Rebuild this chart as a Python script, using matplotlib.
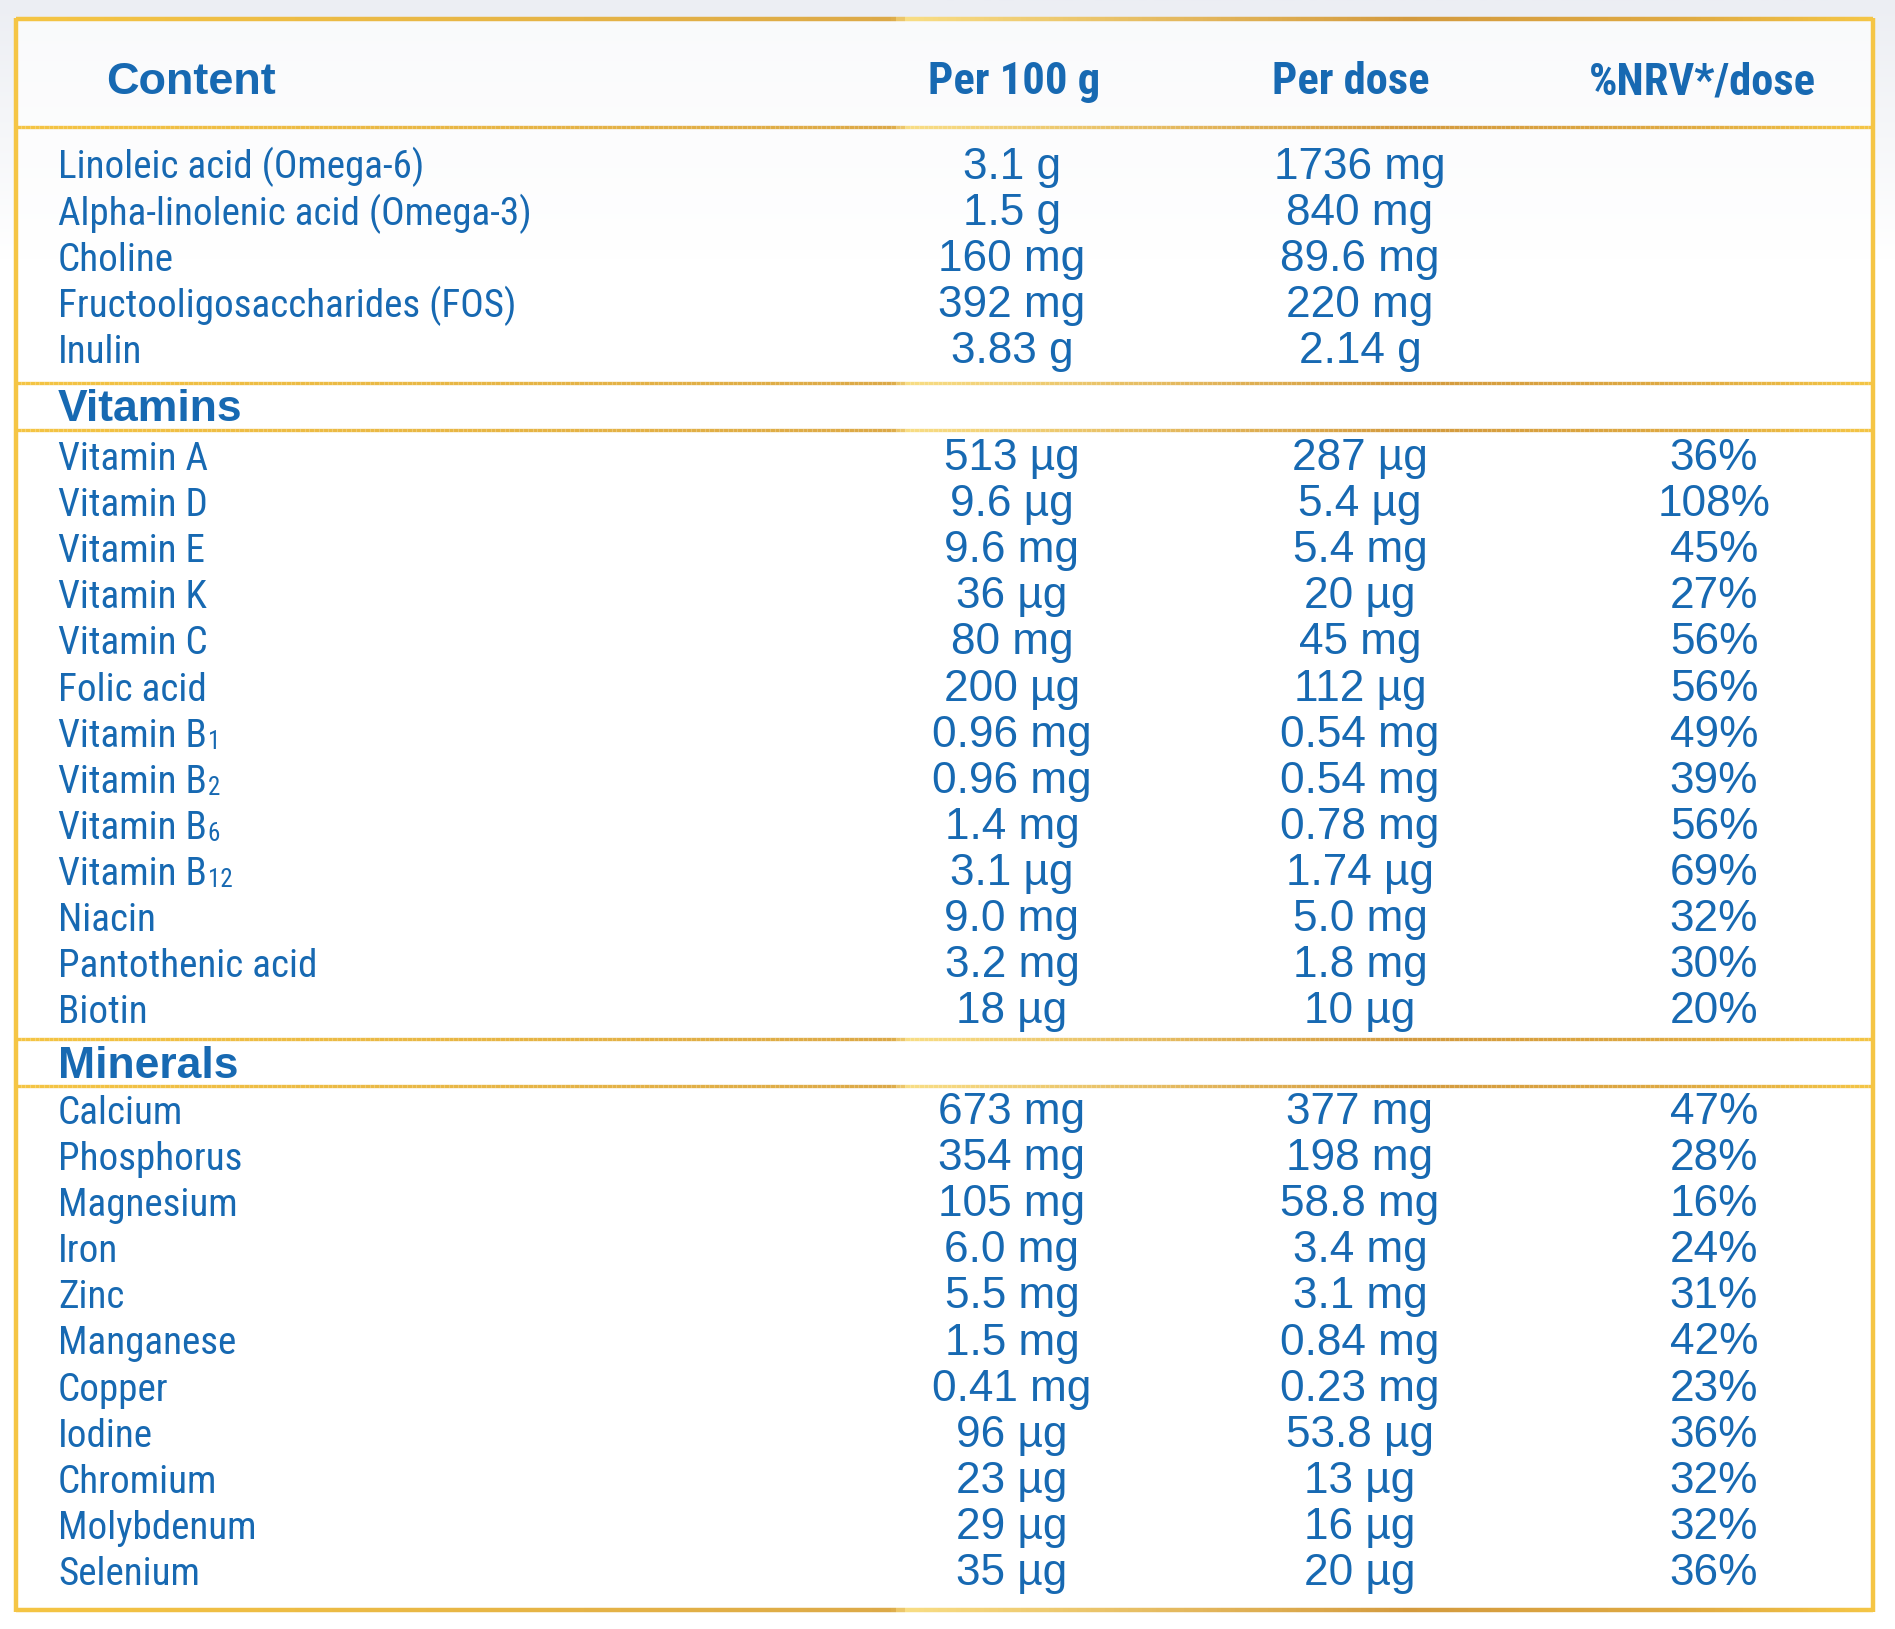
import numpy as np
import matplotlib
matplotlib.use("Agg")
import matplotlib.pyplot as plt
from matplotlib.collections import LineCollection
from matplotlib.colors import LinearSegmentedColormap

# ---- data -----------------------------------------------------------------
col_headers = ["Content", "Per 100 g", "Per dose", "%NRV*/dose"]

general_names = ["Linoleic acid (Omega-6)", "Alpha-linolenic acid (Omega-3)", "Choline",
                 "Fructooligosaccharides (FOS)", "Inulin"]
general_subs = ["", "", "", "", ""]
general_per100 = ["3.1 g", "1.5 g", "160 mg", "392 mg", "3.83 g"]
general_dose = ["1736 mg", "840 mg", "89.6 mg", "220 mg", "2.14 g"]
general_nrv = ["", "", "", "", ""]

vitamin_names = ["Vitamin A", "Vitamin D", "Vitamin E", "Vitamin K", "Vitamin C", "Folic acid",
                 "Vitamin B", "Vitamin B", "Vitamin B", "Vitamin B", "Niacin",
                 "Pantothenic acid", "Biotin"]
vitamin_subs = ["", "", "", "", "", "", "1", "2", "6", "12", "", "", ""]
vitamin_per100 = ["513 µg", "9.6 µg", "9.6 mg", "36 µg", "80 mg", "200 µg", "0.96 mg", "0.96 mg",
                  "1.4 mg", "3.1 µg", "9.0 mg", "3.2 mg", "18 µg"]
vitamin_dose = ["287 µg", "5.4 µg", "5.4 mg", "20 µg", "45 mg", "112 µg", "0.54 mg", "0.54 mg",
                "0.78 mg", "1.74 µg", "5.0 mg", "1.8 mg", "10 µg"]
vitamin_nrv = ["36%", "108%", "45%", "27%", "56%", "56%", "49%", "39%", "56%", "69%", "32%",
               "30%", "20%"]

mineral_names = ["Calcium", "Phosphorus", "Magnesium", "Iron", "Zinc", "Manganese", "Copper",
                 "Iodine", "Chromium", "Molybdenum", "Selenium"]
mineral_subs = [""] * 11
mineral_per100 = ["673 mg", "354 mg", "105 mg", "6.0 mg", "5.5 mg", "1.5 mg", "0.41 mg", "96 µg",
                  "23 µg", "29 µg", "35 µg"]
mineral_dose = ["377 mg", "198 mg", "58.8 mg", "3.4 mg", "3.1 mg", "0.84 mg", "0.23 mg",
                "53.8 µg", "13 µg", "16 µg", "20 µg"]
mineral_nrv = ["47%", "28%", "16%", "24%", "31%", "42%", "23%", "36%", "32%", "32%", "36%"]

# ---- style ----------------------------------------------------------------
BLUE = "#1769b2"
NARROW = ["Roboto Condensed", "Liberation Sans"]
REG = ["Liberation Sans", "DejaVu Sans"]

gold = LinearSegmentedColormap.from_list("gold", [
    (0.0, "#f4c443"), (0.47, "#dca947"), (0.478, "#f8dd84"),
    (0.75, "#d39a3e"), (0.9, "#dfaa42"), (1.0, "#f4c545")])

W, H = 1895, 1629
fig = plt.figure(figsize=(W / 100, H / 100), dpi=100)
ax = fig.add_axes([0, 0, 1, 1])
ax.set_xlim(0, W)
ax.set_ylim(H, 0)
ax.axis("off")
renderer = fig.canvas.get_renderer()


def fit_size(text, target_px, **kw):
    # font size that gives the text the width measured on the reference
    t = ax.text(0, 0, text, fontsize=30, **kw)
    w = t.get_window_extent(renderer).width
    t.remove()
    return 30 * target_px / w


# faint grey wash at the top of the picture
grad = np.linspace(0, 1, 256).reshape(-1, 1)
bg = LinearSegmentedColormap.from_list("bg", ["#eceef3", "#ffffff"])
ax.imshow(grad, cmap=bg, extent=[0, W, 260, 0], aspect="auto", zorder=0)
ax.add_patch(plt.Rectangle((16, 19), 1857, 1591, facecolor="white", alpha=0.7,
                           edgecolor="none", zorder=0.5))

left, right, top, bottom = 16, 1873, 19, 1610


def gold_line(y, lw):
    xs = np.linspace(left, right, 400)
    segs = [[(xs[i], y), (xs[i + 1], y)] for i in range(len(xs) - 1)]
    cols = gold((xs[:-1] - left) / (right - left))
    ax.add_collection(LineCollection(segs, colors=cols, linewidths=lw, zorder=2,
                                     capstyle="butt"))


for y in [top, bottom]:
    gold_line(y, 3.2)
for y in [127, 383, 430, 1039, 1086]:
    gold_line(y, 2.4)
for x in [left, right]:
    ax.plot([x, x], [top - 1.5, bottom + 1.5], color="#f5c545", lw=3.2, zorder=3,
            solid_capstyle="butt")

# ---- headers --------------------------------------------------------------
col_x = [1012, 1360, 1714]
head_x = [1014, 1351, 1702]
head_size = fit_size("%NRV*/dose", 227, family=NARROW, fontweight="bold")
label_size = fit_size("Alpha-linolenic acid (Omega-3)", 474, family=NARROW)

ax.text(106, 94, col_headers[0], fontsize=32.5, fontweight="bold", family=REG,
        color=BLUE, va="baseline", ha="left")
for hx, h in zip(head_x, col_headers[1:]):
    ax.text(hx, 94, h, fontsize=head_size, fontweight="bold", family=NARROW,
            color=BLUE, va="baseline", ha="center")

step = 46.1


def block(y0, labels, subs, per100, dose, nrv):
    for i, (lab, sub, a, b, c) in enumerate(zip(labels, subs, per100, dose, nrv)):
        y = y0 + i * step
        t = ax.text(58, y, lab, fontsize=label_size, family=NARROW, color=BLUE,
                    va="baseline", ha="left")
        if sub:
            ax.annotate(sub, xy=(1, 0), xycoords=t, xytext=(0.5, 0.5),
                        textcoords="offset points", fontsize=label_size * 0.64,
                        family=NARROW, color=BLUE, va="bottom", ha="left")
        for cx, v in zip(col_x, (a, b, c)):
            ax.text(cx, y, v, fontsize=31.8, family=REG, color=BLUE, va="baseline",
                    ha="center")


block(178.5, general_names, general_subs, general_per100, general_dose, general_nrv)
ax.text(58, 421, "Vitamins", fontsize=32, fontweight="bold", family=REG, color=BLUE,
        va="baseline", ha="left")
block(470, vitamin_names, vitamin_subs, vitamin_per100, vitamin_dose, vitamin_nrv)
ax.text(58, 1078, "Minerals", fontsize=32, fontweight="bold", family=REG, color=BLUE,
        va="baseline", ha="left")
block(1124, mineral_names, mineral_subs, mineral_per100, mineral_dose, mineral_nrv)

fig.savefig("out.png", dpi=100, facecolor="white")
